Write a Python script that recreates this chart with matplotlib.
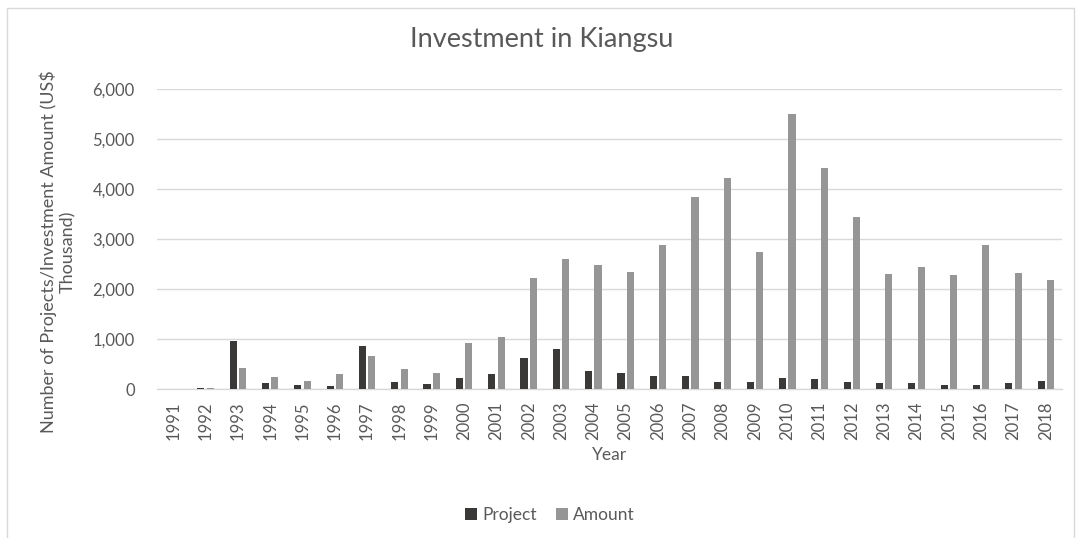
import matplotlib
matplotlib.use("Agg")
import matplotlib.pyplot as plt
import numpy as np

plt.rcParams['font.family'] = ['Lato', 'DejaVu Sans']

years = list(range(1991, 2019))
project = [0, 20, 966, 120, 72, 60, 852, 146, 92, 214,
           306, 630, 800, 356, 320, 266, 266, 150, 150, 220,
           194, 134, 114, 120, 80, 74, 126, 166]
amount = [0, 15, 420, 232, 166, 292, 652, 400, 326, 926,
          1034, 2220, 2600, 2480, 2340, 2880, 3832, 4220, 2740, 5494,
          4414, 3446, 2300, 2446, 2280, 2874, 2314, 2180]

text_color = '#595959'
grid_color = '#d9d9d9'

fig = plt.figure(figsize=(10.84, 5.38), dpi=100)
ax = fig.add_axes([157 / 1084, 1 - 389 / 538, (1062 - 157) / 1084, 300 / 538])

# light border around the chart area
fig.patches.append(plt.Rectangle((7 / 1084, -0.01), 1067 / 1084, 1 - 8 / 538 + 0.01,
                                 transform=fig.transFigure, fill=False,
                                 edgecolor=grid_color, linewidth=1))

x = np.arange(len(years))
w = 0.22
off = 0.145
ax.bar(x - off, project, width=w, color='#3b3838', label='Project', zorder=3)
ax.bar(x + off, amount, width=w, color='#969696', label='Amount', zorder=3)

ax.set_xlim(-0.5, len(years) - 0.5)
ax.set_ylim(0, 6000)
ax.set_yticks(np.arange(0, 6001, 1000))
ax.set_yticklabels([f'{v:,}' for v in range(0, 6001, 1000)])
ax.set_xticks(x)
ax.set_xticklabels([str(y) for y in years], rotation=90)

ax.grid(axis='y', color=grid_color, linewidth=1, zorder=0)
for s in ['top', 'right', 'left']:
    ax.spines[s].set_visible(False)
ax.spines['bottom'].set_color(grid_color)
ax.spines['bottom'].set_linewidth(1)
ax.tick_params(axis='both', length=0, labelsize=12, labelcolor=text_color)
ax.tick_params(axis='y', pad=16)
ax.tick_params(axis='x', pad=9)

ax.set_xlabel('Year', fontsize=12.5, color=text_color, labelpad=5)
fig.text(58 / 1084, 1 - 252 / 538, 'Number of Projects/Investment Amount (US$\nThousand)',
         rotation=90, ha='center', va='center', fontsize=13, color=text_color)

fig.text(0.5, 1 - 40 / 538, 'Investment in Kiangsu', ha='center', va='center',
         fontsize=19.5, color=text_color)

leg = fig.legend(loc='center', bbox_to_anchor=(0.507, 1 - 515 / 538), ncol=2,
                 frameon=False, fontsize=12.5, handlelength=0.7, handleheight=0.7,
                 handletextpad=0.3, columnspacing=1.1)
for t in leg.get_texts():
    t.set_color(text_color)

fig.savefig('out.png', dpi=100, facecolor='white')
